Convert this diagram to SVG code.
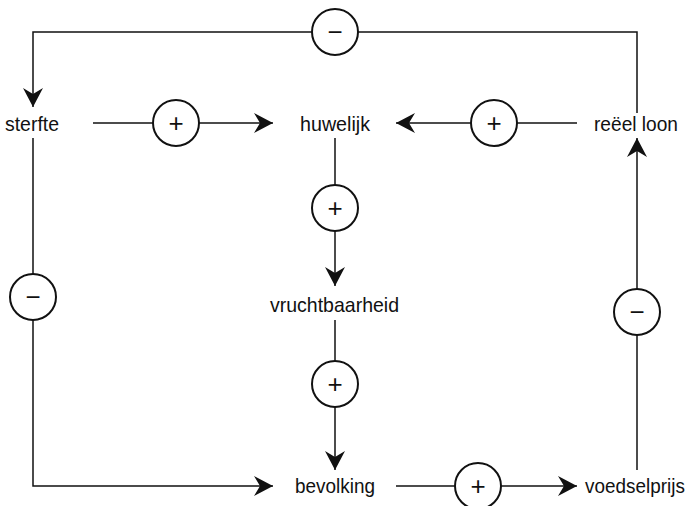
<svg xmlns="http://www.w3.org/2000/svg" width="690" height="506" viewBox="0 0 690 506">
<style>
.lbl{font-family:"Liberation Sans",Arial,sans-serif;font-size:21px;fill:#111;text-anchor:middle}
.sign{font-family:"Liberation Sans",Arial,sans-serif;font-size:26px;fill:#111;text-anchor:middle}
.ln{fill:none;stroke:#111;stroke-width:1.5}
.sc{fill:#fff;stroke:#111;stroke-width:2}
</style>
<defs>
<marker id="ah" markerUnits="userSpaceOnUse" markerWidth="22" markerHeight="22" viewBox="-20 -11 22 22" refX="0" refY="0" orient="auto">
<path d="M0,0 L-19,-10 L-13,0 L-19,10 Z" fill="#111"/>
</marker>
</defs>
<g id="connectors">
<polyline class="ln" points="637,113 637,32 33,32 33,107" marker-end="url(#ah)"/>
<line class="ln" x1="93" y1="123" x2="273" y2="123" marker-end="url(#ah)"/>
<line class="ln" x1="577" y1="123" x2="396" y2="123" marker-end="url(#ah)"/>
<line class="ln" x1="335" y1="138" x2="335" y2="286" marker-end="url(#ah)"/>
<line class="ln" x1="335" y1="320" x2="335" y2="470" marker-end="url(#ah)"/>
<polyline class="ln" points="33,138 33,486 273,486" marker-end="url(#ah)"/>
<line class="ln" x1="396" y1="486" x2="577" y2="486" marker-end="url(#ah)"/>
<line class="ln" x1="637" y1="470" x2="637" y2="138" marker-end="url(#ah)"/>
<g id="s-top"><circle class="sc" cx="335" cy="32" r="23"/><text class="sign" x="335" y="41">−</text></g>
<g id="s-sh"><circle class="sc" cx="176" cy="123" r="23"/><text class="sign" x="176" y="132">+</text></g>
<g id="s-rh"><circle class="sc" cx="494" cy="123" r="23"/><text class="sign" x="494" y="132">+</text></g>
<g id="s-hv"><circle class="sc" cx="335" cy="208" r="23"/><text class="sign" x="335" y="217">+</text></g>
<g id="s-vb"><circle class="sc" cx="335" cy="384" r="23"/><text class="sign" x="335" y="393">+</text></g>
<g id="s-sb"><circle class="sc" cx="33" cy="297" r="23"/><text class="sign" x="33" y="306">−</text></g>
<g id="s-bv"><circle class="sc" cx="478" cy="486" r="23"/><text class="sign" x="478" y="495">+</text></g>
<g id="s-vr"><circle class="sc" cx="637" cy="312" r="23"/><text class="sign" x="637" y="321">−</text></g>
</g>
<g id="sterfte"><text class="lbl" x="32" y="131" textLength="54" lengthAdjust="spacingAndGlyphs">sterfte</text></g>
<g id="huwelijk"><text class="lbl" x="335" y="131" textLength="70" lengthAdjust="spacingAndGlyphs">huwelijk</text></g>
<g id="reeel-loon"><text class="lbl" x="636" y="131" textLength="84" lengthAdjust="spacingAndGlyphs">reëel loon</text></g>
<g id="vruchtbaarheid"><text class="lbl" x="334.5" y="312" textLength="129" lengthAdjust="spacingAndGlyphs">vruchtbaarheid</text></g>
<g id="bevolking"><text class="lbl" x="335" y="493" textLength="80" lengthAdjust="spacingAndGlyphs">bevolking</text></g>
<g id="voedselprijs"><text class="lbl" transform="translate(635,493) scale(0.9,1)" x="0" y="0">voedselprijs</text></g>
</svg>
